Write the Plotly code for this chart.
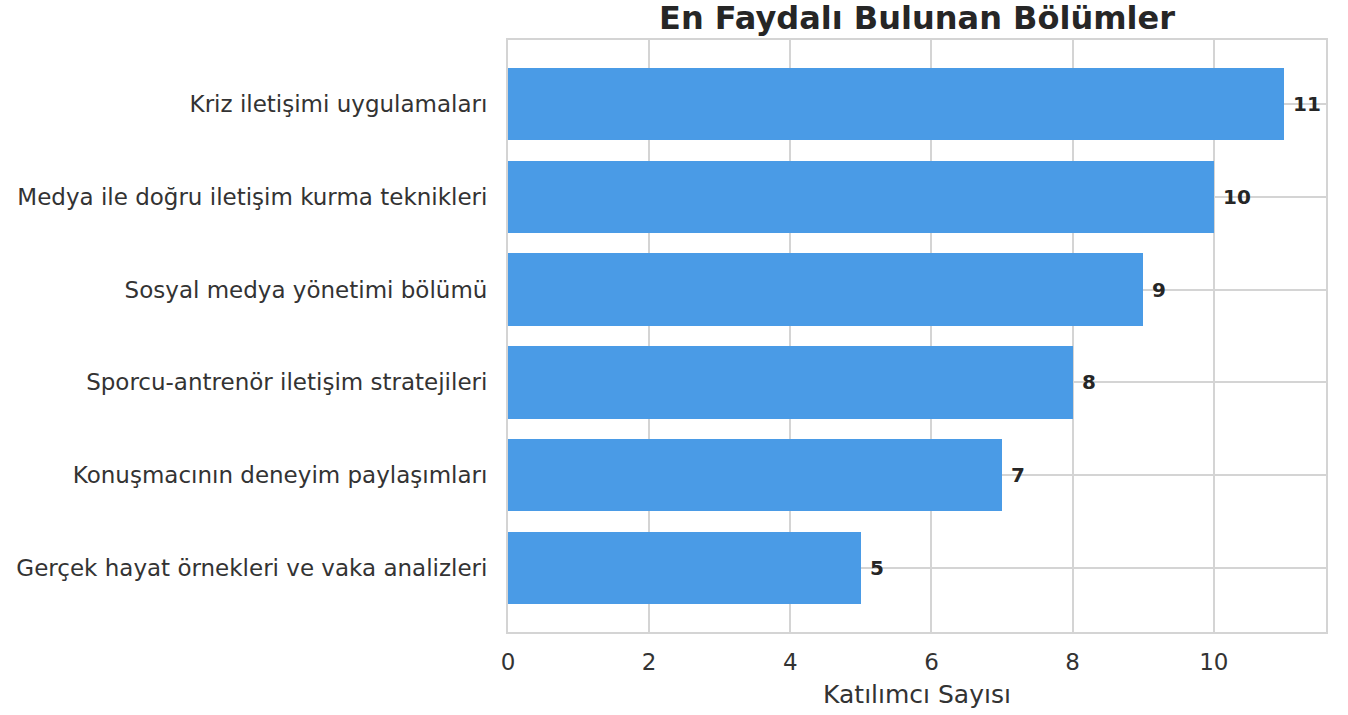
import plotly.graph_objects as go

categories = [
    "Kriz iletişimi uygulamaları",
    "Medya ile doğru iletişim kurma teknikleri",
    "Sosyal medya yönetimi bölümü",
    "Sporcu-antrenör iletişim stratejileri",
    "Konuşmacının deneyim paylaşımları",
    "Gerçek hayat örnekleri ve vaka analizleri",
]
values = [11, 10, 9, 8, 7, 5]
x_ticks = [0, 2, 4, 6, 8, 10]

font_family = "DejaVu Sans"
text_color = "#262626"
tick_color = "#333333"
grid_color = "#d4d4d4"

fig = go.Figure()
fig.add_trace(go.Bar(
    x=values,
    y=categories,
    orientation="h",
    width=0.78,
    marker=dict(color="#4a9be6", line=dict(width=0)),
    hoverinfo="x+y",
))

for c, v in zip(categories, values):
    fig.add_annotation(
        x=v, y=c, text=f"<b>{v}</b>", showarrow=False,
        xanchor="left", yanchor="middle", xshift=7,
        font=dict(family=font_family, size=20, color=text_color),
    )

fig.update_layout(
    width=1348, height=715,
    margin=dict(l=508, r=22, t=40, b=83),
    paper_bgcolor="white",
    plot_bgcolor="white",
    showlegend=False,
    bargap=0,
    title=dict(
        text="<b>En Faydalı Bulunan Bölümler</b>",
        x=0.5, xref="paper", xanchor="center",
        y=1, yref="paper", yanchor="bottom", pad=dict(b=11),
        font=dict(family=font_family, size=32, color=text_color),
    ),
    font=dict(family=font_family, color=text_color),
)

fig.update_xaxes(
    range=[0, 11.59],
    tickvals=x_ticks,
    ticktext=[str(t) for t in x_ticks],
    showgrid=True, gridcolor=grid_color, gridwidth=2,
    zeroline=False,
    showline=True, linecolor=grid_color, linewidth=2, mirror=True,
    ticks="", ticklabelstandoff=8,
    tickfont=dict(family=font_family, size=23, color=tick_color),
    title=dict(text="Katılımcı Sayısı", standoff=12,
               font=dict(family=font_family, size=25, color=tick_color)),
    automargin=False,
)

fig.update_yaxes(
    type="category",
    categoryorder="array", categoryarray=categories,
    range=[5.69, -0.69],
    showgrid=True, gridcolor=grid_color, gridwidth=2,
    zeroline=False,
    showline=True, linecolor=grid_color, linewidth=2, mirror=True,
    ticks="", ticklabelstandoff=14,
    tickfont=dict(family=font_family, size=23, color=tick_color),
    automargin=False,
)

fig.write_html("out.html")
